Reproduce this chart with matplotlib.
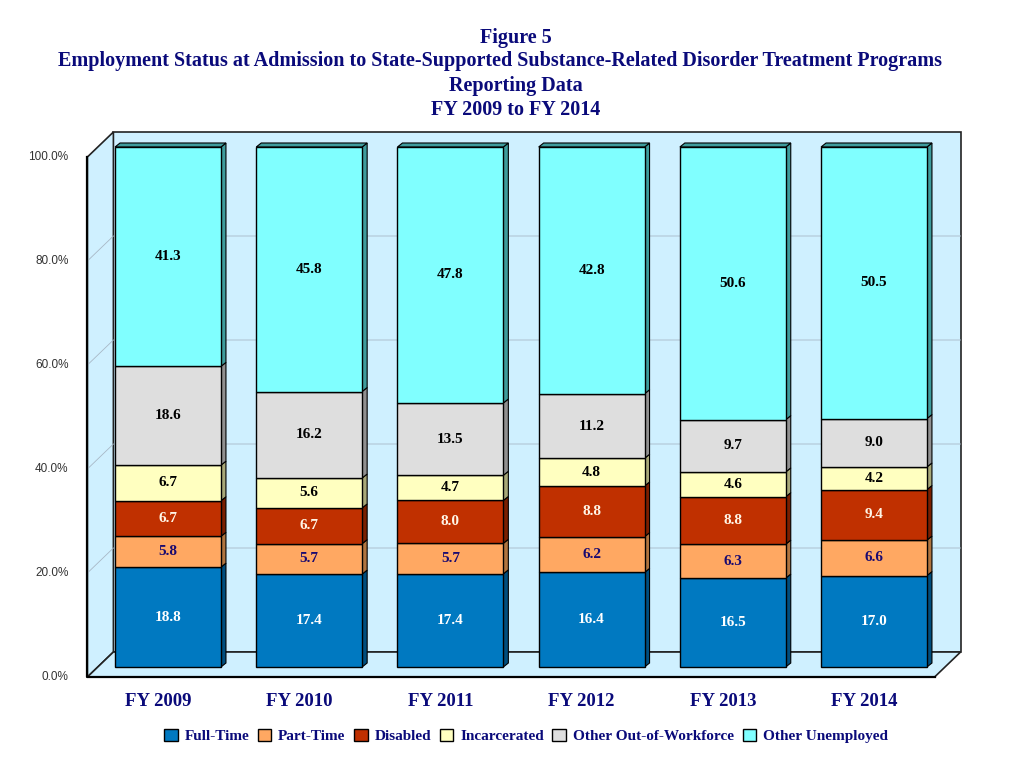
import matplotlib
matplotlib.use("Agg")
import matplotlib.pyplot as plt
from matplotlib.patches import Polygon, Patch
import numpy as np

# ---------------- data ----------------
years = ["FY 2009", "FY 2010", "FY 2011", "FY 2012", "FY 2013", "FY 2014"]
series_names = ["Full-Time", "Part-Time", "Disabled", "Incarcerated",
                "Other Out-of-Workforce", "Other Unemployed"]
full_time = [18.8, 17.4, 17.4, 16.4, 16.5, 17.0]
part_time = [5.8, 5.7, 5.7, 6.2, 6.3, 6.6]
disabled = [6.7, 6.7, 8.0, 8.8, 8.8, 9.4]
incarcerated = [6.7, 5.6, 4.7, 4.8, 4.6, 4.2]
other_out_of_workforce = [18.6, 16.2, 13.5, 11.2, 9.7, 9.0]
other_unemployed = [41.3, 45.8, 47.8, 42.8, 50.6, 50.5]
y_ticks = [0, 20, 40, 60, 80, 100]
y_tick_labels = ["0.0%", "20.0%", "40.0%", "60.0%", "80.0%", "100.0%"]

series_values = [full_time, part_time, disabled, incarcerated,
                 other_out_of_workforce, other_unemployed]

face_colors = ["#0079C1", "#FFA862", "#C03000", "#FFFFC0", "#DEDEDE", "#80FFFF"]
side_colors = ["#004E7E", "#B0743F", "#7A1F00", "#A8A878", "#909090", "#3E9C9C"]
label_colors = ["white", "#1A0A70", "#FFF5E6", "black", "black", "black"]

NAVY = "#0A0A7A"
SERIF = ["Liberation Serif", "DejaVu Serif"]
SANS = ["Liberation Sans", "DejaVu Sans"]

# ---------------- figure ----------------
W, H = 1024, 768
fig = plt.figure(figsize=(W / 100, H / 100), dpi=100)

# plane of the bars (pixels)
left_px, right_px = 97.4, 944.6
bot_px, top_px = 667, 147
ax = fig.add_axes([left_px / W, 1 - bot_px / H,
                   (right_px - left_px) / W, (bot_px - top_px) / H])
xmin, xmax = -0.5, 5.5
ax.set_xlim(xmin, xmax)
ax.set_ylim(0, 100)
ax.axis("off")

sx = (right_px - left_px) / (xmax - xmin)   # px per x unit
sy = (bot_px - top_px) / 100.0              # px per y unit


def off(x, y, dx, dy):
    """offset a data point by dx px right and dy px down"""
    return (x + dx / sx, y - dy / sy)


FRONT = (-10, 10)
BACK = (16, -15)
wall_color = "#CFF0FF"

# back wall
back = [off(xmin, 0, *BACK), off(xmax, 0, *BACK),
        off(xmax, 100, *BACK), off(xmin, 100, *BACK)]
ax.add_patch(Polygon(back, closed=True, facecolor=wall_color, edgecolor="#222222",
                     lw=1.2, zorder=0, clip_on=False))
# side wall
side = [off(xmin, 0, *FRONT), off(xmin, 100, *FRONT),
        off(xmin, 100, *BACK), off(xmin, 0, *BACK)]
ax.add_patch(Polygon(side, closed=True, facecolor=wall_color, edgecolor="#222222",
                     lw=1.2, zorder=0.5, clip_on=False))
# floor
floor = [off(xmin, 0, *FRONT), off(xmax, 0, *FRONT),
         off(xmax, 0, *BACK), off(xmin, 0, *BACK)]
ax.add_patch(Polygon(floor, closed=True, facecolor=wall_color, edgecolor="#222222",
                     lw=1.2, zorder=0.5, clip_on=False))

# gridlines
for yv in y_ticks[1:-1]:
    p0 = off(xmin, yv, *FRONT)
    p1 = off(xmin, yv, *BACK)
    p2 = off(xmax, yv, *BACK)
    ax.plot([p0[0], p1[0], p2[0]], [p0[1], p1[1], p2[1]], color="#A8B8C6",
            lw=0.6, zorder=1, clip_on=False)

# front axis lines
f0 = off(xmin, 0, *FRONT)
f1 = off(xmin, 100, *FRONT)
f2 = off(xmax, 0, *FRONT)
ax.plot([f1[0], f0[0], f2[0]], [f1[1], f0[1], f2[1]], color="black", lw=1.6,
        zorder=5, clip_on=False, solid_capstyle="projecting")

# tick labels
for yv, lab in zip(y_ticks, y_tick_labels):
    px, py = off(xmin, yv, -10 - 19, 10)
    ax.text(px, py, lab, ha="right", va="center", fontsize=8.5, color="#333333",
            family=SANS)

# ---------------- bars ----------------
x = np.arange(len(years))
width = 0.75
values = np.array(series_values, dtype=float)
totals = values.sum(axis=0)
shares = values / totals * 100
bottoms = np.zeros(len(years))
ddx, ddy = 5, -4
for j in range(len(series_names)):
    h = shares[j]
    ax.bar(x, h, width=width, bottom=bottoms, color=face_colors[j],
           edgecolor="black", lw=1.0, zorder=3, clip_on=False)
    for i in range(len(years)):
        xr = x[i] + width / 2
        b, t = bottoms[i], bottoms[i] + h[i]
        sidep = [(xr, b), (xr, t), off(xr, t, ddx, ddy), off(xr, b, ddx, ddy)]
        ax.add_patch(Polygon(sidep, closed=True, facecolor=side_colors[j],
                             edgecolor="black", lw=0.8, zorder=2.9, clip_on=False))
        if j == len(series_names) - 1:
            xl = x[i] - width / 2
            topp = [(xl, t), (xr, t), off(xr, t, ddx, ddy), off(xl, t, ddx, ddy)]
            ax.add_patch(Polygon(topp, closed=True, facecolor=side_colors[j],
                                 edgecolor="black", lw=0.8, zorder=2.9, clip_on=False))
        ax.text(x[i], b + h[i] / 2, f"{values[j][i]:.1f}", ha="center", va="center",
                fontsize=11, fontweight="bold", family=SERIF,
                color=label_colors[j], zorder=6)
    bottoms = bottoms + h

# category labels
for i, yr in enumerate(years):
    px, py = off(x[i], 0, -10, 35)
    ax.text(px, py, yr, ha="center", va="center", fontsize=13.5, fontweight="bold",
            family=SERIF, color=NAVY)

# ---------------- title ----------------
title_lines = [("Figure 5", 516, 38),
               ("Employment Status at Admission to State-Supported Substance-Related Disorder Treatment Programs", 500, 61),
               ("Reporting Data", 516, 86),
               ("FY 2009 to FY 2014", 516, 110)]
for txt, tx, ty in title_lines:
    fig.text(tx / W, 1 - ty / H, txt, ha="center", va="center", fontsize=14.5,
             fontweight="bold", family=SERIF, color=NAVY)

# ---------------- legend ----------------
handles = [Patch(facecolor=c, edgecolor="black", lw=1.0) for c in face_colors]
leg = fig.legend(handles, series_names, loc="center", bbox_to_anchor=(526 / W, 1 - 736 / H),
                 ncol=6, frameon=False, handlelength=0.9, handleheight=0.9,
                 handletextpad=0.45, columnspacing=0.55,
                 prop={"family": SERIF, "weight": "bold", "size": 11})
for t in leg.get_texts():
    t.set_color(NAVY)

fig.savefig("out.png", dpi=100)
